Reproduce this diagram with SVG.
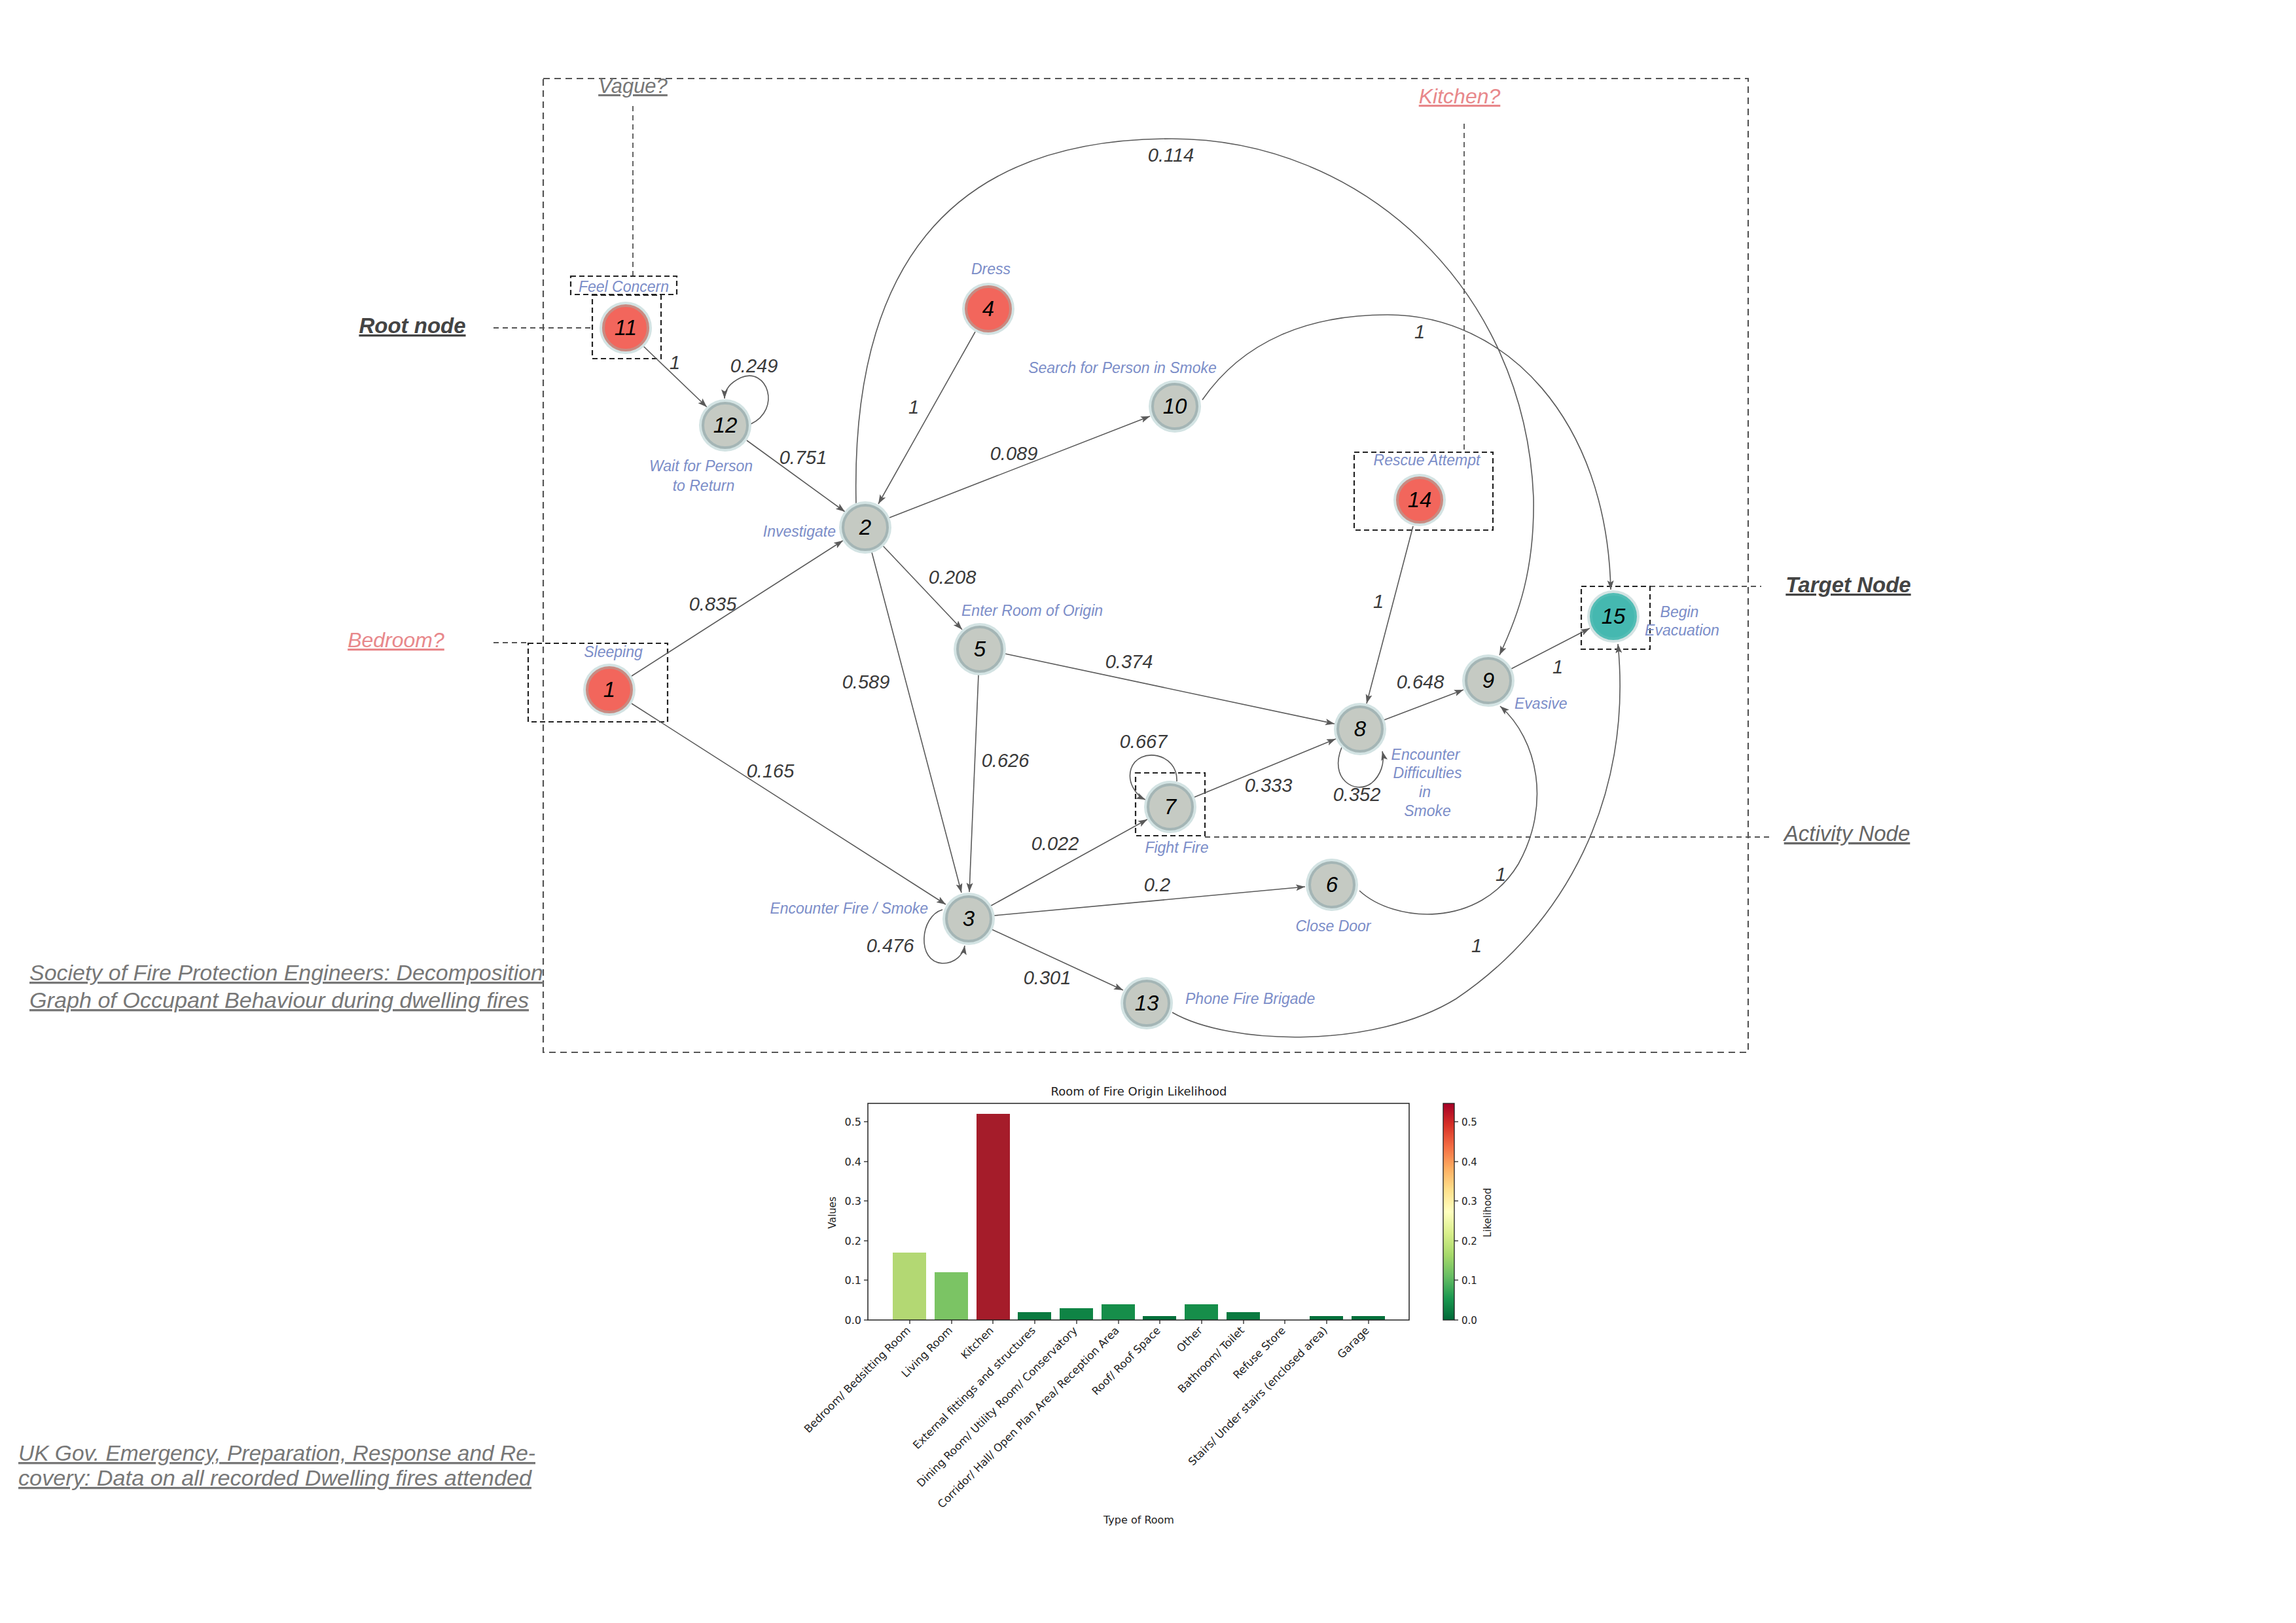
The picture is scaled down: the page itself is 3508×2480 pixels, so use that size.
<svg xmlns="http://www.w3.org/2000/svg" width="3508" height="2480" viewBox="0 0 3508 2480">
<style>
.el{font-family:"Liberation Sans",Arial,sans-serif;font-style:italic;font-size:29px;fill:#3a3a3a;text-anchor:middle}
.nn{font-family:"Liberation Sans",Arial,sans-serif;font-style:italic;font-size:33px;fill:#000;text-anchor:middle}
.nl{font-family:"Liberation Sans",Arial,sans-serif;font-style:italic;font-size:23px;fill:#7b8dc8}
.halo{fill:#d3e3e3}
.gray{fill:#c5cac3;stroke:#a4b5b5;stroke-width:4}
.red{fill:#f2665c;stroke:#c98a81;stroke-width:4}
.teal{fill:#45b8b0;stroke:#52bdb5;stroke-width:4}
.e{fill:none;stroke:#5a5a5a;stroke-width:1.6;marker-end:url(#arr)}
.box{fill:none;stroke:#222;stroke-width:2.2;stroke-dasharray:8 5}
.ann{fill:none;stroke:#555;stroke-width:1.8;stroke-dasharray:8 6}
.frame{fill:none;stroke:#555;stroke-width:2.2;stroke-dasharray:10 7}
.ul{font-family:"Liberation Sans",Arial,sans-serif;font-style:italic;text-decoration:underline}
.ch{font-family:"DejaVu Sans",sans-serif;fill:#222}
</style>
<defs>
<marker id="arr" markerUnits="userSpaceOnUse" markerWidth="16" markerHeight="12" refX="14" refY="5" orient="auto">
<path d="M0,0 L14,5 L0,10 L3,5 z" fill="#5a5a5a"/>
</marker>
<linearGradient id="cmap" x1="0" y1="1" x2="0" y2="0">
<stop offset="0" stop-color="#006837"/>
<stop offset="0.1" stop-color="#1a9850"/>
<stop offset="0.2" stop-color="#66bd63"/>
<stop offset="0.3" stop-color="#a6d96a"/>
<stop offset="0.4" stop-color="#d9ef8b"/>
<stop offset="0.5" stop-color="#ffffbf"/>
<stop offset="0.6" stop-color="#fee08b"/>
<stop offset="0.7" stop-color="#fdae61"/>
<stop offset="0.8" stop-color="#f46d43"/>
<stop offset="0.9" stop-color="#d73027"/>
<stop offset="1" stop-color="#a50026"/>
</linearGradient>
</defs>
<rect width="3508" height="2480" fill="#fff"/>

<!-- frame and annotations -->
<g id="frame">
<rect class="frame" x="830" y="120" width="1841" height="1488"/>
</g>
<g id="annotations">
<line class="ann" x1="967" y1="162" x2="967" y2="421"/>
<line class="ann" x1="2237" y1="189" x2="2237" y2="691"/>
<line class="ann" x1="754" y1="501" x2="906" y2="501"/>
<line class="ann" x1="754" y1="982" x2="808" y2="982"/>
<line class="ann" x1="2521" y1="896" x2="2691" y2="896"/>
<line class="ann" x1="1841" y1="1279" x2="2707" y2="1279"/>
<text class="ul" x="967" y="142" font-size="31" fill="#777" text-anchor="middle">Vague?</text>
<text class="ul" x="2230" y="158" font-size="32" fill="#e8888b" text-anchor="middle">Kitchen?</text>
<text class="ul" x="630" y="509" font-size="33" font-weight="bold" fill="#444" text-anchor="middle">Root node</text>
<text class="ul" x="605" y="989" font-size="32" fill="#e8888b" text-anchor="middle">Bedroom?</text>
<text class="ul" x="2824" y="905" font-size="33" font-weight="bold" fill="#444" text-anchor="middle">Target Node</text>
<text class="ul" x="2822" y="1285" font-size="33" fill="#666" text-anchor="middle">Activity Node</text>
<text class="ul" x="45" y="1498" font-size="33" fill="#777" textLength="785" lengthAdjust="spacingAndGlyphs">Society of Fire Protection Engineers: Decomposition</text>
<text class="ul" x="45" y="1540" font-size="33" fill="#777" textLength="763" lengthAdjust="spacingAndGlyphs">Graph of Occupant Behaviour during dwelling fires</text>
<text class="ul" x="28" y="2232" font-size="33" fill="#777" textLength="790" lengthAdjust="spacingAndGlyphs">UK Gov. Emergency, Preparation, Response and Re-</text>
<text class="ul" x="28" y="2270" font-size="33" fill="#777" textLength="784" lengthAdjust="spacingAndGlyphs">covery: Data on all recorded Dwelling fires attended</text>
</g>

<!-- dashed node boxes -->
<g id="boxes">
<rect class="box" x="872" y="422" width="162" height="28"/>
<rect class="box" x="905" y="451" width="105" height="97"/>
<rect class="box" x="807" y="983" width="213" height="120"/>
<rect class="box" x="2069" y="691" width="212" height="119"/>
<rect class="box" x="2416" y="896" width="105" height="96"/>
<rect class="box" x="1735" y="1181" width="106" height="96"/>
</g>

<!-- connectors -->
<g id="connectors">
<path class="e" d="M983,529 L1080,622"/>
<path class="e" d="M1147,648 C1195,625 1172,560 1132,577 C1113,586 1107,598 1107,609"/>
<path class="e" d="M1141,673 L1291,782"/>
<path class="e" d="M1490,507 L1342,770"/>
<path class="e" d="M1359,791 L1757,636"/>
<path class="e" d="M965,1033 L1288,826"/>
<path class="e" d="M1349,834 L1470,962"/>
<path class="e" d="M1332,844 L1469,1364"/>
<path class="e" d="M965,1075 L1445,1382"/>
<path class="e" d="M1495,1031 L1481,1363"/>
<path class="e" d="M1536,999 L2039,1106"/>
<path class="e" d="M2159,804 L2088,1075"/>
<path class="e" d="M2115,1100 L2236,1054"/>
<path class="e" d="M2309,1022 L2429,960"/>
<path class="e" d="M1825,1218 L2041,1129"/>
<path class="e" d="M1514,1384 L1753,1252"/>
<path class="e" d="M1519,1399 L1994,1355"/>
<path class="e" d="M1515,1420 L1716,1513"/>
<path class="e" d="M1308,770 C1300,420 1440,212 1790,212 C2080,212 2330,440 2343,760 C2345,870 2320,940 2291,1001"/>
<path class="e" d="M1837,611 C1900,520 2000,481 2120,481 C2300,481 2455,640 2461,901"/>
<path class="e" d="M2077,1361 C2130,1410 2260,1420 2320,1320 C2370,1230 2350,1130 2292,1079"/>
<path class="e" d="M1791,1547 C1880,1598 2100,1603 2225,1526 C2390,1415 2495,1220 2472,984"/>
<path class="e" d="M1798,1194 C1800,1150 1740,1140 1728,1175 C1722,1195 1735,1215 1750,1222"/>
<path class="e" d="M2050,1142 C2030,1190 2070,1215 2095,1197 C2110,1185 2116,1165 2112,1148"/>
<path class="e" d="M1440,1390 C1405,1400 1400,1470 1440,1472 C1460,1472 1472,1458 1474,1445"/>
</g>

<!-- edge labels -->
<g id="edge-labels">
<text class="el" x="1031" y="564">1</text>
<text class="el" x="1152" y="569">0.249</text>
<text class="el" x="1227" y="709">0.751</text>
<text class="el" x="1396" y="632">1</text>
<text class="el" x="1549" y="703">0.089</text>
<text class="el" x="1789" y="247">0.114</text>
<text class="el" x="2169" y="517">1</text>
<text class="el" x="1455" y="892">0.208</text>
<text class="el" x="1089" y="933">0.835</text>
<text class="el" x="1323" y="1052">0.589</text>
<text class="el" x="1725" y="1021">0.374</text>
<text class="el" x="1177" y="1188">0.165</text>
<text class="el" x="1536" y="1172">0.626</text>
<text class="el" x="1747" y="1143">0.667</text>
<text class="el" x="1612" y="1299">0.022</text>
<text class="el" x="2106" y="929">1</text>
<text class="el" x="2170" y="1052">0.648</text>
<text class="el" x="2380" y="1029">1</text>
<text class="el" x="1938" y="1210">0.333</text>
<text class="el" x="2073" y="1224">0.352</text>
<text class="el" x="1768" y="1362">0.2</text>
<text class="el" x="2293" y="1346">1</text>
<text class="el" x="2256" y="1455">1</text>
<text class="el" x="1360" y="1455">0.476</text>
<text class="el" x="1600" y="1504">0.301</text>
</g>

<!-- nodes -->
<g id="node-11"><circle class="halo" cx="956" cy="501" r="40"/><circle class="red" cx="956" cy="501" r="34"/><text class="nn" x="956" y="512">11</text><text class="nl" x="953" y="446" text-anchor="middle">Feel Concern</text></g>
<g id="node-12"><circle class="halo" cx="1108" cy="650" r="40"/><circle class="gray" cx="1108" cy="650" r="34"/><text class="nn" x="1108" y="661">12</text><text class="nl" x="1071" y="720" text-anchor="middle">Wait for Person</text><text class="nl" x="1075" y="750" text-anchor="middle">to Return</text></g>
<g id="node-4"><circle class="halo" cx="1510" cy="472" r="40"/><circle class="red" cx="1510" cy="472" r="34"/><text class="nn" x="1510" y="483">4</text><text class="nl" x="1514" y="419" text-anchor="middle">Dress</text></g>
<g id="node-10"><circle class="halo" cx="1795" cy="621" r="40"/><circle class="gray" cx="1795" cy="621" r="34"/><text class="nn" x="1795" y="632">10</text><text class="nl" x="1715" y="570" text-anchor="middle">Search for Person in Smoke</text></g>
<g id="node-2"><circle class="halo" cx="1322" cy="806" r="40"/><circle class="gray" cx="1322" cy="806" r="34"/><text class="nn" x="1322" y="817">2</text><text class="nl" x="1277" y="820" text-anchor="end">Investigate</text></g>
<g id="node-14"><circle class="halo" cx="2169" cy="764" r="40"/><circle class="red" cx="2169" cy="764" r="34"/><text class="nn" x="2169" y="775">14</text><text class="nl" x="2180" y="711" text-anchor="middle">Rescue Attempt</text></g>
<g id="node-15"><circle class="halo" cx="2465" cy="942" r="40"/><circle class="teal" cx="2465" cy="942" r="34"/><text class="nn" x="2465" y="953">15</text><text class="nl" x="2566" y="943" text-anchor="middle">Begin</text><text class="nl" x="2570" y="971" text-anchor="middle">Evacuation</text></g>
<g id="node-5"><circle class="halo" cx="1497" cy="992" r="40"/><circle class="gray" cx="1497" cy="992" r="34"/><text class="nn" x="1497" y="1003">5</text><text class="nl" x="1469" y="941">Enter Room of Origin</text></g>
<g id="node-1"><circle class="halo" cx="931" cy="1054" r="40"/><circle class="red" cx="931" cy="1054" r="34"/><text class="nn" x="931" y="1065">1</text><text class="nl" x="937" y="1004" text-anchor="middle">Sleeping</text></g>
<g id="node-9"><circle class="halo" cx="2274" cy="1040" r="40"/><circle class="gray" cx="2274" cy="1040" r="34"/><text class="nn" x="2274" y="1051">9</text><text class="nl" x="2314" y="1083">Evasive</text></g>
<g id="node-8"><circle class="halo" cx="2078" cy="1114" r="40"/><circle class="gray" cx="2078" cy="1114" r="34"/><text class="nn" x="2078" y="1125">8</text><text class="nl" x="2178" y="1161" text-anchor="middle">Encounter</text><text class="nl" x="2181" y="1189" text-anchor="middle">Difficulties</text><text class="nl" x="2177" y="1218" text-anchor="middle">in</text><text class="nl" x="2181" y="1247" text-anchor="middle">Smoke</text></g>
<g id="node-7"><circle class="halo" cx="1788" cy="1233" r="40"/><circle class="gray" cx="1788" cy="1233" r="34"/><text class="nn" x="1788" y="1244">7</text><text class="nl" x="1798" y="1303" text-anchor="middle">Fight Fire</text></g>
<g id="node-6"><circle class="halo" cx="2035" cy="1352" r="40"/><circle class="gray" cx="2035" cy="1352" r="34"/><text class="nn" x="2035" y="1363">6</text><text class="nl" x="2037" y="1423" text-anchor="middle">Close Door</text></g>
<g id="node-3"><circle class="halo" cx="1480" cy="1404" r="40"/><circle class="gray" cx="1480" cy="1404" r="34"/><text class="nn" x="1480" y="1415">3</text><text class="nl" x="1418" y="1396" text-anchor="end">Encounter Fire / Smoke</text></g>
<g id="node-13"><circle class="halo" cx="1752" cy="1533" r="40"/><circle class="gray" cx="1752" cy="1533" r="34"/><text class="nn" x="1752" y="1544">13</text><text class="nl" x="1811" y="1534">Phone Fire Brigade</text></g>

<!-- bar chart -->
<g id="chart">
<text class="ch" x="1740" y="1674" font-size="18" text-anchor="middle">Room of Fire Origin Likelihood</text>
<g id="bars">
<rect x="1364" y="1914" width="51" height="103" fill="#b3d873"/>
<rect x="1428" y="1944" width="51" height="73" fill="#7bc464"/>
<rect x="1492" y="1702" width="51" height="315" fill="#a51c2a"/>
<rect x="1555" y="2005" width="51" height="12" fill="#0a7a40"/>
<rect x="1619" y="1999" width="51" height="18" fill="#0f8445"/>
<rect x="1683" y="1993" width="51" height="24" fill="#168e4a"/>
<rect x="1746" y="2011" width="51" height="6" fill="#05703b"/>
<rect x="1810" y="1993" width="51" height="24" fill="#168e4a"/>
<rect x="1874" y="2005" width="51" height="12" fill="#0a7a40"/>
<rect x="2001" y="2011" width="51" height="6" fill="#05703b"/>
<rect x="2065" y="2011" width="51" height="6" fill="#05703b"/>
</g>
<rect x="1326" y="1686" width="827" height="331" fill="none" stroke="#222" stroke-width="1.5"/>
<g stroke="#222" stroke-width="1.3">
<line x1="1320" y1="2017" x2="1326" y2="2017"/><line x1="1320" y1="1956" x2="1326" y2="1956"/><line x1="1320" y1="1896" x2="1326" y2="1896"/><line x1="1320" y1="1835" x2="1326" y2="1835"/><line x1="1320" y1="1775" x2="1326" y2="1775"/><line x1="1320" y1="1714" x2="1326" y2="1714"/>
<line x1="1390" y1="2017" x2="1390" y2="2023"/><line x1="1454" y1="2017" x2="1454" y2="2023"/><line x1="1517" y1="2017" x2="1517" y2="2023"/><line x1="1581" y1="2017" x2="1581" y2="2023"/><line x1="1645" y1="2017" x2="1645" y2="2023"/><line x1="1709" y1="2017" x2="1709" y2="2023"/><line x1="1772" y1="2017" x2="1772" y2="2023"/><line x1="1836" y1="2017" x2="1836" y2="2023"/><line x1="1900" y1="2017" x2="1900" y2="2023"/><line x1="1963" y1="2017" x2="1963" y2="2023"/><line x1="2027" y1="2017" x2="2027" y2="2023"/><line x1="2091" y1="2017" x2="2091" y2="2023"/>
</g>
<g class="ch" font-size="16" text-anchor="end">
<text x="1316" y="2023">0.0</text><text x="1316" y="1962">0.1</text><text x="1316" y="1902">0.2</text><text x="1316" y="1841">0.3</text><text x="1316" y="1781">0.4</text><text x="1316" y="1720">0.5</text>
</g>
<text class="ch" font-size="15" text-anchor="middle" transform="translate(1277,1853) rotate(-90)">Values</text>
<g class="ch" font-size="16.5" text-anchor="end">
<text transform="translate(1392,2034) rotate(-45)">Bedroom/ Bedsitting Room</text>
<text transform="translate(1456,2034) rotate(-45)">Living Room</text>
<text transform="translate(1519,2034) rotate(-45)">Kitchen</text>
<text transform="translate(1583,2034) rotate(-45)">External fittings and structures</text>
<text transform="translate(1647,2034) rotate(-45)">Dining Room/ Utility Room/ Conservatory</text>
<text transform="translate(1711,2034) rotate(-45)">Corridor/ Hall/ Open Plan Area/ Reception Area</text>
<text transform="translate(1774,2034) rotate(-45)">Roof/ Roof Space</text>
<text transform="translate(1838,2034) rotate(-45)">Other</text>
<text transform="translate(1902,2034) rotate(-45)">Bathroom/ Toilet</text>
<text transform="translate(1965,2034) rotate(-45)">Refuse Store</text>
<text transform="translate(2029,2034) rotate(-45)">Stairs/ Under stairs (enclosed area)</text>
<text transform="translate(2093,2034) rotate(-45)">Garage</text>
</g>
<text class="ch" x="1740" y="2328" font-size="16" text-anchor="middle">Type of Room</text>
<rect x="2205" y="1686" width="17" height="331" fill="url(#cmap)" stroke="#222" stroke-width="1.3"/>
<g stroke="#222" stroke-width="1.3">
<line x1="2222" y1="2017" x2="2228" y2="2017"/><line x1="2222" y1="1956" x2="2228" y2="1956"/><line x1="2222" y1="1896" x2="2228" y2="1896"/><line x1="2222" y1="1835" x2="2228" y2="1835"/><line x1="2222" y1="1775" x2="2228" y2="1775"/><line x1="2222" y1="1714" x2="2228" y2="1714"/>
</g>
<g class="ch" font-size="15">
<text x="2233" y="2023">0.0</text><text x="2233" y="1962">0.1</text><text x="2233" y="1902">0.2</text><text x="2233" y="1841">0.3</text><text x="2233" y="1781">0.4</text><text x="2233" y="1720">0.5</text>
</g>
<text class="ch" font-size="15" text-anchor="middle" transform="translate(2278,1853) rotate(-90)">Likelihood</text>
</g>
</svg>
